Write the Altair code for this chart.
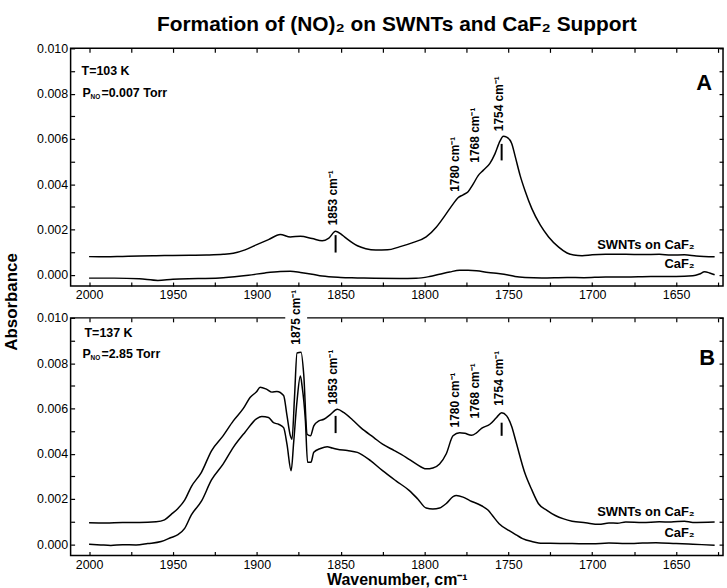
import altair as alt
import numpy as np
import pandas as pd

# ---------------- spectra (wavenumber in cm-1, absorbance) ----------------
# Panel A: T = 103 K, P(NO) = 0.007 Torr
a_swnt_w = [2000, 1990, 1980, 1970, 1960, 1950, 1940, 1930, 1920, 1914,
            1907, 1900, 1893, 1886, 1880, 1874, 1867, 1861, 1857, 1853,
            1849, 1846, 1840, 1835, 1829, 1822, 1815, 1807, 1799, 1793,
            1787, 1783, 1780, 1777, 1774, 1771, 1768, 1765, 1761, 1758,
            1755, 1753, 1751, 1748, 1746, 1743, 1740, 1736, 1731, 1726,
            1720, 1715, 1711, 1706, 1700, 1692, 1680, 1670, 1660, 1653,
            1645, 1638, 1627]
a_swnt_abs = [.00080, .00079, .00081, .00083, .00084, .00085, .00086, .00087, .00090, .00095,
              .00110, .00133, .00155, .00178, .00167, .00170, .00160, .00150, .00162, .00192,
              .00175, .00157, .00128, .00115, .00109, .00110, .00123, .00142, .00167, .00210,
              .00270, .00312, .00340, .00353, .00367, .00400, .00438, .00461, .00492, .00534,
              .00590, .00612, .00608, .00580, .00525, .00439, .00370, .00292, .00220, .00167,
              .00122, .00096, .00087, .00084, .00088, .00090, .00090, .00089, .00090, .00087,
              .00088, .00083, .00079]
a_caf2_w = [2000, 1985, 1970, 1959, 1950, 1935, 1920, 1905, 1895, 1886,
            1880, 1874, 1867, 1861, 1850, 1840, 1830, 1815, 1805, 1797,
            1791, 1785, 1779, 1774, 1769, 1762, 1756, 1751, 1746, 1740,
            1730, 1715, 1705, 1692, 1680, 1665, 1650, 1640, 1636, 1633,
            1630, 1627]
a_caf2_abs = [-.00015, -.00015, -.00018, -.00025, -.00020, -.00017, -.00013, -.00002, .00008, .00014,
              .00015, .00010, .00002, -.00006, -.00012, -.00014, -.00016, -.00017, -.00016, -.00008,
              .00002, .00012, .00020, .00020, .00018, .00010, .00005, .00000, -.00008, -.00012,
              -.00014, -.00012, -.00013, -.00010, -.00010, -.00008, -.00008, -.00005, .00003, .00013,
              .00008, .00000]

# Panel B: T = 137 K, P(NO) = 2.85 Torr
b_swnt_w = [2000, 1990, 1980, 1970, 1960, 1955, 1951, 1947, 1943, 1939,
            1933, 1927, 1920, 1914, 1908, 1904, 1900, 1898, 1894, 1891,
            1888, 1884, 1882, 1880, 1879, 1877.5, 1876, 1873.6, 1872, 1870,
            1868, 1866, 1863, 1860, 1856, 1852, 1848, 1843, 1838, 1830,
            1825, 1818, 1811, 1805, 1799, 1795, 1791, 1787, 1783, 1779,
            1776, 1772, 1769, 1766, 1761, 1757, 1754, 1751, 1748, 1745.6,
            1740, 1736, 1732, 1727, 1722, 1717, 1712, 1704, 1696, 1690,
            1685, 1680, 1670, 1660, 1653, 1645, 1640, 1627]
b_swnt_abs = [.00095, .00094, .00096, .00096, .00099, .00108, .00132, .00158, .00195, .00255,
              .00318, .00413, .00480, .00545, .00600, .00648, .00675, .00694, .00684, .00672,
              .00675, .00657, .00569, .00480, .00464, .00650, .00845, .00848, .00750, .00486,
              .00479, .00523, .00545, .00552, .00574, .00596, .00581, .00550, .00515, .00470,
              .00442, .00414, .00384, .00355, .00333, .00337, .00355, .00400, .00479, .00493,
              .00490, .00481, .00492, .00512, .00530, .00560, .00581, .00567, .00520, .00457,
              .00311, .00240, .00179, .00150, .00127, .00112, .00102, .00095, .00088, .00094,
              .00093, .00098, .00096, .00099, .00098, .00102, .00096, .00098]
b_caf2_w = [2000, 1993, 1987, 1980, 1972, 1965, 1957, 1951, 1947, 1943,
            1939, 1933, 1927, 1920, 1914, 1907, 1900, 1897, 1893, 1890,
            1887, 1884, 1882, 1879.5, 1878, 1876, 1874, 1873, 1871, 1869.7,
            1867.7, 1866, 1862, 1858, 1855, 1852, 1846, 1840, 1832, 1825,
            1817, 1809, 1804, 1799, 1795, 1791, 1787, 1783, 1781, 1777,
            1773, 1766, 1762, 1759.5, 1755.5, 1749.5, 1745, 1741.5, 1736, 1732,
            1725, 1712, 1700, 1690, 1680, 1670, 1662, 1650, 1640, 1627]
b_caf2_abs = [.00000, -.00003, -.00005, -.00002, -.00003, .00003, .00012, .00030, .00042, .00070,
              .00130, .00190, .00284, .00355, .00428, .00495, .00555, .00564, .00560, .00537,
              .00530, .00515, .00442, .00325, .00450, .00633, .00743, .00700, .00545, .00362,
              .00362, .00406, .00423, .00431, .00425, .00420, .00414, .00406, .00368, .00325,
              .00280, .00237, .00200, .00160, .00156, .00160, .00180, .00210, .00215, .00208,
              .00193, .00170, .00150, .00127, .00091, .00060, .00040, .00025, .00012, .00006,
              .00004, .00003, .00002, .00005, .00003, .00005, .00007, .00003, .00000, -.00004]

# assigned bands (cm-1) and the short marker ticks under two of them
a_peaks = [1853, 1780, 1768, 1754]
b_peaks = [1875, 1853, 1780, 1768, 1754]
a_mark_w, a_mark_top, a_mark_bottom = [1853, 1754], [.00175, .00578], [.00098, .00505]
b_mark_w, b_mark_top, b_mark_bottom = [1853, 1754], [.00567, .00537], [.00491, .00479]

x_ticks = list(range(2000, 1600, -25))
y_ticks = [i / 1000 for i in range(11)]

TITLE = "Formation of (NO)₂ on SWNTs and CaF₂ Support"
FONT = "Liberation Sans, Arial, Helvetica, sans-serif"
W, H = 656, 239
Y_LO, Y_HI = -0.0005, 0.010
PX = H / (Y_HI - Y_LO)  # pixels per absorbance unit

xs = alt.Scale(domain=[1622, 2011], reverse=True, nice=False, zero=False)
ys = alt.Scale(domain=[Y_LO, Y_HI], nice=False, zero=False)


def at(w, v, x):
    return float(np.interp(x, w[::-1], v[::-1]))


def note(text, x, y, size, align="left", baseline="middle", angle=0):
    return alt.Chart(pd.DataFrame({"k": [0]})).mark_text(
        text=text, font=FONT, fontSize=size, fontWeight="bold", color="black",
        align=align, baseline=baseline, angle=angle,
    ).encode(x=alt.value(x), y=alt.value(y))


def axis_bottom(title):
    kw = dict(orient="bottom", values=x_ticks, format="d",
              labelExpr="datum.value % 50 === 0 ? datum.label : ''",
              offset=-4, tickSize=4, domain=False, grid=False, labelPadding=3,
              labelFlush=False)
    if title:
        kw.update(title=title, titleFontSize=16, titlePadding=1)
    else:
        kw.update(title=None)
    return alt.Axis(**kw)


axis_left = alt.Axis(orient="left", values=y_ticks, title=None,
                     labelExpr="round(datum.value * 1000) % 2 === 0 ? format(datum.value, '.3f') : ''",
                     offset=-4, tickSize=4, domain=False, grid=False, labelPadding=3)
axis_top = alt.Axis(orient="top", values=x_ticks, labels=False, title=None,
                    offset=-4, tickSize=4, domain=False, grid=False)
axis_right = alt.Axis(orient="right", values=y_ticks, labels=False, title=None,
                      offset=-4, tickSize=4, domain=False, grid=False)


def pressure(value, y):
    """'P' with a small 'NO' subscript, then the pressure value."""
    return [
        note("P", 12, y, 12.5),
        note("NO", 20, y + 4, 6.5),
        note("=" + value, 31, y, 12.5),
    ]


def panel(swnt_w, swnt_v, caf_w, caf_v, peaks, lifts, mw, mtop, mbot, xtitle):
    spectra = pd.concat([
        pd.DataFrame({"w": swnt_w, "v": swnt_v, "series": "SWNTs on CaF2"}),
        pd.DataFrame({"w": caf_w, "v": caf_v, "series": "CaF2"}),
    ])
    lines = alt.Chart(spectra).mark_line(
        color="black", strokeWidth=1.5, interpolate="monotone"
    ).encode(
        x=alt.X("w:Q", scale=xs, axis=axis_bottom(xtitle)),
        y=alt.Y("v:Q", scale=ys, axis=axis_left),
        detail="series:N",
        order=alt.Order("w:Q", sort="descending"),
    )

    markers = alt.Chart(pd.DataFrame({"w": mw, "top": mtop, "bottom": mbot})).mark_rule(
        color="black", strokeWidth=2
    ).encode(
        x=alt.X("w:Q", scale=xs, axis=axis_top),
        y=alt.Y("top:Q", scale=ys, axis=axis_right),
        y2="bottom:Q",
    )

    labels = pd.DataFrame({
        "w": peaks,
        "v": [at(swnt_w, swnt_v, p) + lift / PX for p, lift in zip(peaks, lifts)],
        "label": [f"{p} cm⁻¹" for p in peaks],
    })
    peak_text = alt.Chart(labels).mark_text(
        font=FONT, fontSize=12, fontWeight="bold", color="black",
        angle=270, align="left", baseline="middle", dy=-3,
    ).encode(
        x=alt.X("w:Q", scale=xs, axis=None),
        y=alt.Y("v:Q", scale=ys, axis=None),
        text="label:N",
    )

    lab_w = 1639
    curve_labels = pd.DataFrame({
        "w": [lab_w, lab_w],
        "v": [at(swnt_w, swnt_v, lab_w), at(caf_w, caf_v, lab_w)],
        "label": ["SWNTs on CaF₂", "CaF₂"],
    })
    curve_text = alt.Chart(curve_labels).mark_text(
        font=FONT, fontSize=13, fontWeight="bold", color="black",
        align="right", baseline="middle", dy=-11,
    ).encode(
        x=alt.X("w:Q", scale=xs, axis=None),
        y=alt.Y("v:Q", scale=ys, axis=None),
        text="label:N",
    )
    return [lines, markers, peak_text, curve_text]


layers_a = panel(a_swnt_w, a_swnt_abs, a_caf2_w, a_caf2_abs, a_peaks, [6, 6, 13, 7.5],
                 a_mark_w, a_mark_top, a_mark_bottom, None)
layers_b = panel(b_swnt_w, b_swnt_abs, b_caf2_w, b_caf2_abs, b_peaks, [8, 6, 6, 13, 7],
                 b_mark_w, b_mark_top, b_mark_bottom, "Wavenumber, cm⁻¹")

# white backing behind the 1875 label where it crosses the frame
top_label = b_peaks[0]
backing = alt.Chart(pd.DataFrame({"w": [top_label + 1.5], "v1": [0.0112], "v2": [0.0088]})).mark_rule(
    color="white", strokeWidth=22
).encode(
    x=alt.X("w:Q", scale=xs, axis=None),
    y=alt.Y("v1:Q", scale=ys, axis=None),
    y2="v2:Q",
)

panel_a = alt.layer(
    *layers_a,
    note(TITLE, W / 2, -17, 21, align="center", baseline="alphabetic"),
    note("Absorbance", -59, 255, 17, align="center", angle=270),
    note("T=103 K", 11, 23, 12.5),
    *pressure("0.007 Torr", 45),
    note("A", 645, 42, 22, align="right", baseline="alphabetic"),
).properties(width=W, height=H)

panel_b = alt.layer(
    layers_b[0], layers_b[1], backing, *layers_b[2:],
    note("T=137 K", 14, 15, 12.5),
    *pressure("2.85 Torr", 36),
    note("B", 648, 47, 22, align="right", baseline="alphabetic"),
).properties(width=W, height=H)

chart = alt.vconcat(panel_a, panel_b, spacing=32, bounds="flush").properties(
    padding={"left": 2, "top": 12, "right": 2, "bottom": 0}
).configure_view(
    stroke="black", strokeWidth=1.5
).configure_axis(
    labelFont=FONT, labelFontSize=12.5, labelColor="black",
    tickColor="black", tickWidth=1.2,
    titleFont=FONT, titleFontWeight="bold", titleColor="black",
)

chart.save("out.html", embed_options={"renderer": "svg", "actions": False})
